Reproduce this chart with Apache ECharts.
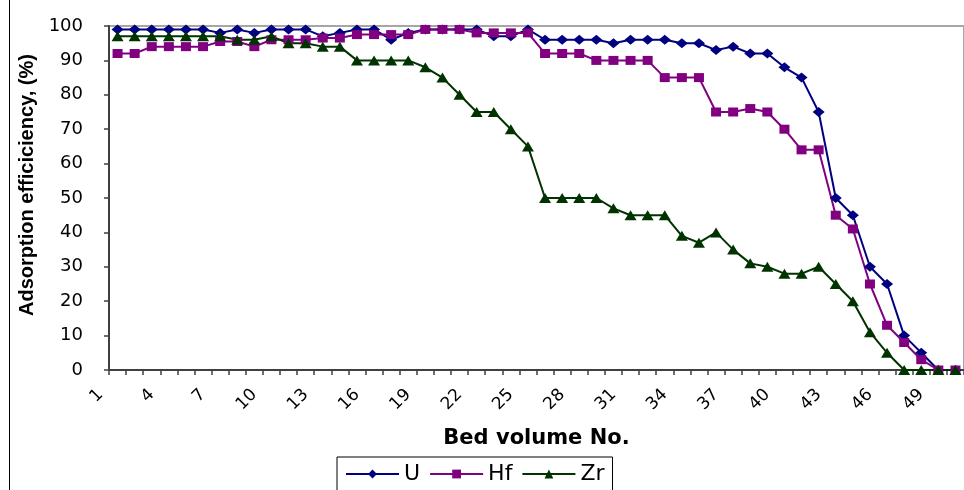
<!DOCTYPE html>
<html>
<head>
<meta charset="utf-8">
<script src="https://cdn.jsdelivr.net/npm/echarts@6/dist/echarts.min.js"></script>
<style>
  html, body { margin: 0; padding: 0; background: #fff; }
  #chart { width: 964px; height: 490px; }
</style>
</head>
<body>
<div id="chart"></div>
<script>
// Bed volumes that carry a measurement (volume 1 has none)
const bedVolumes = ['2','3','4','5','6','7','8','9','10','11',
                    '12','13','14','15','16','17','18','19','20','21',
                    '22','23','24','25','26','27','28','29','30','31',
                    '32','33','34','35','36','37','38','39','40','41',
                    '42','43','44','45','46','47','48','49','50','51'];

// Labelled bed volumes on the horizontal axis
const tickLabels = ['1','4','7','10','13','16','19','22','25','28','31','34','37','40','43','46','49'];

// Adsorption efficiency (%) per bed volume
const uEff  = [99, 99, 99, 99, 99, 99, 98, 99, 98, 99,
               99, 99, 97, 98, 99, 99, 96, 98, 99, 99,
               99, 99, 97, 97, 99, 96, 96, 96, 96, 95,
               96, 96, 96, 95, 95, 93, 94, 92, 92, 88,
               85, 75, 50, 45, 30, 25, 10, 5, 0, 0];
const hfEff = [92, 92, 94, 94, 94, 94, 95.5, 95.5, 94, 96,
               96, 96, 96.5, 96.5, 97.5, 97.5, 97.5, 97.5, 99, 99,
               99, 98, 98, 98, 98, 92, 92, 92, 90, 90,
               90, 90, 85, 85, 85, 75, 75, 76, 75, 70,
               64, 64, 45, 41, 25, 13, 8, 3, 0, 0];
const zrEff = [97, 97, 97, 97, 97, 97, 97, 96, 96, 97,
               95, 95, 94, 94, 90, 90, 90, 90, 88, 85,
               80, 75, 75, 70, 65, 50, 50, 50, 50, 47,
               45, 45, 45, 39, 37, 40, 35, 31, 30, 28,
               28, 30, 25, 20, 11, 5, 0, 0, 0, 0];

const seriesNames = ['U', 'Hf', 'Zr'];
const seriesColors = ['#000080', '#800080', '#003300'];
const seriesSymbols = ['diamond', 'rect', 'triangle'];
const symbolSizes = [[12, 10], [10, 9], [12, 10]];
const seriesData = [uEff, hfEff, zrEff];

const FONT = 'DejaVu Sans, Arial, sans-serif';
const TICK_FONT_SIZE = 17;
const TICK_MARGIN = 22;

const chart = echarts.init(document.getElementById('chart'), null, { renderer: 'canvas' });

chart.setOption({
  animation: false,
  backgroundColor: '#fff',
  grid: {
    left: 109, top: 26, right: -6.5, bottom: 120,
    show: true, borderColor: '#a6a6a6', borderWidth: 2, backgroundColor: 'transparent'
  },
  legend: {
    data: seriesNames,
    left: 337, top: 457,
    orient: 'horizontal',
    borderColor: '#000', borderWidth: 1,
    padding: [6, 8, 12, 8],
    itemWidth: 53, itemHeight: 11, itemGap: 9,
    textStyle: { fontSize: 22, color: '#000', fontFamily: FONT }
  },
  xAxis: {
    type: 'category',
    data: bedVolumes,
    boundaryGap: true,
    axisLine: { lineStyle: { color: '#404040', width: 2 } },
    axisTick: { show: true, interval: 0, length: 5, lineStyle: { color: '#404040', width: 1.5 } },
    axisLabel: {
      interval: (i, v) => tickLabels.includes(v),
      rotate: 45, margin: TICK_MARGIN,
      fontSize: TICK_FONT_SIZE, color: '#000', fontFamily: FONT
    },
    splitLine: { show: false },
    name: 'Bed volume No.',
    nameLocation: 'middle',
    nameGap: 58,
    nameTextStyle: { fontSize: 21, fontWeight: 'bold', color: '#000', fontFamily: FONT }
  },
  yAxis: {
    type: 'value',
    min: 0, max: 100, interval: 10,
    axisLine: { show: true, lineStyle: { color: '#404040', width: 2 } },
    axisTick: { show: true, length: 5, lineStyle: { color: '#404040', width: 1.5 } },
    axisLabel: { margin: 26, fontSize: 18, color: '#000', fontFamily: FONT },
    splitLine: { show: false },
    name: 'Adsorption efficiciency, (%)',
    nameLocation: 'middle',
    nameGap: 69,
    nameTextStyle: {
      fontSize: 20, fontWeight: 'bold', color: '#000',
      fontFamily: 'Liberation Sans, Arial, sans-serif',
      padding: [0, 0, 0, 26]
    }
  },
  series: seriesNames.map((name, k) => ({
    name,
    type: 'line',
    data: seriesData[k],
    symbol: seriesSymbols[k],
    symbolSize: symbolSizes[k],
    showAllSymbol: true,
    lineStyle: { color: seriesColors[k], width: 2 },
    itemStyle: { color: seriesColors[k] },
    emphasis: { disabled: true }
  }))
});

// The first labelled volume sits one band before the first plotted volume;
// place its label with the same spacing the axis uses.
const xA = chart.convertToPixel({ xAxisIndex: 0 }, 0);
const xB = chart.convertToPixel({ xAxisIndex: 0 }, 1);
const yZero = chart.convertToPixel({ yAxisIndex: 0 }, 0);
chart.setOption({
  graphic: [
    {
      type: 'text',
      x: 2 * xA - xB,
      y: yZero + TICK_MARGIN,
      rotation: Math.PI / 4,
      style: {
        text: tickLabels[0],
        align: 'right', verticalAlign: 'middle',
        fontSize: TICK_FONT_SIZE, fontFamily: FONT, fill: '#000'
      }
    },
    {
      type: 'line',
      shape: { x1: 9.5, y1: 0, x2: 9.5, y2: 490 },
      style: { stroke: '#000', lineWidth: 1 }
    }
  ]
});
</script>
</body>
</html>
